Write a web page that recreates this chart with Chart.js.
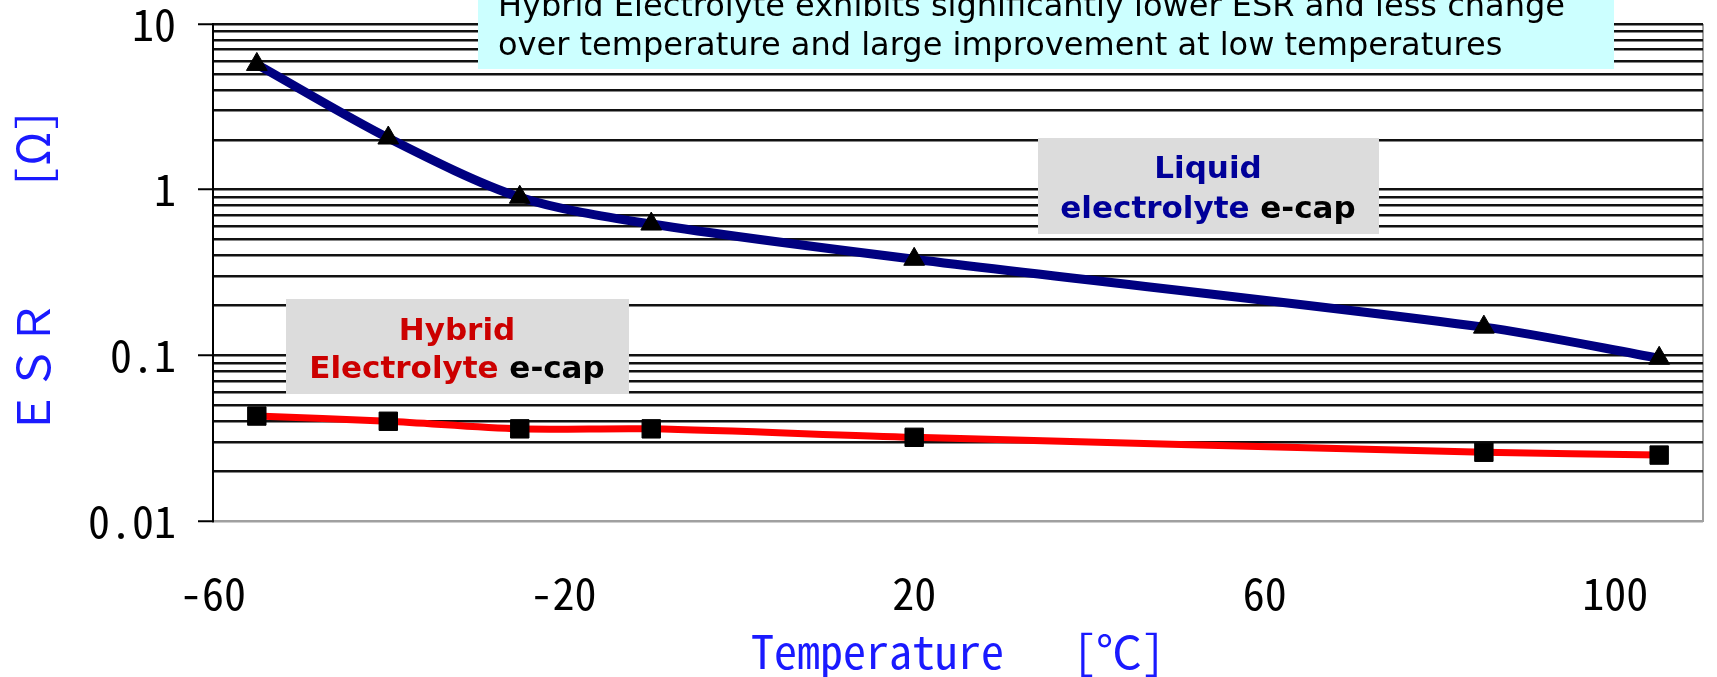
<!DOCTYPE html>
<html>
<head>
<meta charset="utf-8">
<script src="https://cdn.jsdelivr.net/npm/chart.js@4.4.0/dist/chart.umd.min.js"></script>
<style>
  html, body { margin: 0; padding: 0; background: #fff; }
  canvas { display: block; }
</style>
</head>
<body>
<canvas id="myChart" width="1717" height="677"></canvas>
<script>
// data
const temps = [-55, -40, -25, -10, 20, 85, 105];
const liquidEsr = [5.7, 2.05, 0.9, 0.62, 0.38, 0.148, 0.096];
const hybridEsr = [0.043, 0.040, 0.036, 0.036, 0.032, 0.026, 0.025];

const xTickValues = [-60, -20, 20, 60, 100];
const xTickLabels = ['-60', '-20', '20', '60', '100'];
const yTickValues = [0.01, 0.1, 1, 10];
const yTickLabels = ['0.01', '0.1', '1', '10'];

const xTitle = 'Temperature　 [℃]';
const yTitle = 'ＥＳＲ　　 [Ω]';
const bannerLines = [
    'Hybrid Electrolyte exhibits significantly lower ESR and less change',
    'over temperature and large improvement at low temperatures'
];

const axisFont = "'Noto Sans Mono CJK JP', 'Liberation Mono', monospace";
const noteFont = "'DejaVu Sans', Verdana, sans-serif";

// text boxes on top of the plot
function twoColour(ctx, cx, y, first, second, c1, c2) {
    const w1 = ctx.measureText(first).width;
    const w2 = ctx.measureText(second).width;
    let x = cx - (w1 + w2) / 2;
    ctx.textAlign = 'left';
    ctx.fillStyle = c1;
    ctx.fillText(first, x, y);
    ctx.fillStyle = c2;
    ctx.fillText(second, x + w1, y);
}

const notes = {
    id: 'notes',
    afterDatasetsDraw(chart) {
        const ctx = chart.ctx;
        ctx.save();
        ctx.textBaseline = 'alphabetic';

        // cyan banner
        ctx.fillStyle = '#ccffff';
        ctx.fillRect(478, 0, 1136, 69);
        ctx.fillStyle = '#000';
        ctx.font = '32px ' + noteFont;
        ctx.textAlign = 'left';
        ctx.fillText(bannerLines[0], 498, 16);
        ctx.fillText(bannerLines[1], 498, 55);

        ctx.font = 'bold 31px ' + noteFont;

        // hybrid box
        ctx.fillStyle = '#dcdcdc';
        ctx.fillRect(286, 299, 343, 95);
        ctx.textAlign = 'center';
        ctx.fillStyle = '#cc0000';
        ctx.fillText('Hybrid', 457, 340);
        twoColour(ctx, 457, 378, 'Electrolyte', ' e-cap', '#cc0000', '#000');

        // liquid box
        ctx.fillStyle = '#dcdcdc';
        ctx.fillRect(1038, 138, 341, 96);
        ctx.textAlign = 'center';
        ctx.fillStyle = '#000099';
        ctx.fillText('Liquid', 1208, 178);
        twoColour(ctx, 1208, 218, 'electrolyte', ' e-cap', '#000099', '#000');

        ctx.restore();
    }
};

const ctx = document.getElementById('myChart').getContext('2d');
const myChart = new Chart(ctx, {
    type: 'line',
    data: {
        datasets: [{
            label: 'Liquid electrolyte e-cap',
            data: temps.map((t, i) => ({ x: t, y: liquidEsr[i] })),
            borderColor: '#000080',
            borderWidth: 9,
            tension: 0.3,
            pointStyle: 'triangle',
            pointRadius: 12,
            pointBackgroundColor: '#000',
            pointBorderColor: '#000',
            pointBorderWidth: 1
        }, {
            label: 'Hybrid Electrolyte e-cap',
            data: temps.map((t, i) => ({ x: t, y: hybridEsr[i] })),
            borderColor: '#ff0000',
            borderWidth: 7,
            tension: 0.3,
            pointStyle: 'rect',
            pointRadius: 13,
            pointBackgroundColor: '#000',
            pointBorderColor: '#000',
            pointBorderWidth: 1
        }]
    },
    options: {
        responsive: false,
        animation: false,
        devicePixelRatio: 1,
        layout: {
            padding: { top: 24, right: 9, left: 0, bottom: 0 }
        },
        plugins: {
            legend: { display: false },
            tooltip: { enabled: false }
        },
        scales: {
            x: {
                type: 'linear',
                min: -60,
                max: 110,
                afterBuildTicks: (axis) => {
                    axis.ticks = xTickValues.concat([110]).map(v => ({ value: v }));
                },
                ticks: {
                    autoSkip: false,
                    maxRotation: 0,
                    color: '#000',
                    padding: 50,
                    font: { family: axisFont, size: 44, lineHeight: 1 },
                    callback: (v) => {
                        const i = xTickValues.indexOf(v);
                        return i < 0 ? '' : xTickLabels[i];
                    }
                },
                grid: {
                    drawTicks: false,
                    lineWidth: 2,
                    color: (c) => (c.tick && c.tick.value === 110) ? '#a0a0a0' : 'rgba(0,0,0,0)'
                },
                border: { color: '#a0a0a0', width: 2 },
                title: {
                    display: true,
                    text: xTitle,
                    color: '#1a1aff',
                    font: { family: axisFont, size: 46, lineHeight: 1 },
                    padding: { top: 0, bottom: 2 }
                },
                afterFit: (s) => {
                    s.height = 156;
                    s.paddingLeft = 0;
                    s.paddingRight = 0;
                }
            },
            y: {
                type: 'logarithmic',
                min: 0.01,
                max: 10,
                afterBuildTicks: (axis) => {
                    const t = [];
                    for (let i = 0; i < yTickValues.length - 1; i++) {
                        for (let m = 1; m < 10; m++) {
                            t.push(+(yTickValues[i] * m).toPrecision(3));
                        }
                    }
                    t.push(yTickValues[yTickValues.length - 1]);
                    axis.ticks = t.map(v => ({ value: v }));
                },
                ticks: {
                    autoSkip: false,
                    color: '#000',
                    padding: 22,
                    font: { family: axisFont, size: 44, lineHeight: 1 },
                    callback: (v) => {
                        const i = yTickValues.indexOf(v);
                        return i < 0 ? '' : yTickLabels[i];
                    }
                },
                grid: {
                    lineWidth: 2.5,
                    tickLength: 15,
                    tickWidth: 2,
                    color: (c) => (c.tick && c.tick.value === 0.01) ? '#a0a0a0' : '#111',
                    tickColor: (c) => (c.tick && yTickValues.includes(c.tick.value)) ? '#000' : 'rgba(0,0,0,0)'
                },
                border: { color: '#000', width: 2 },
                title: {
                    display: true,
                    text: yTitle,
                    color: '#1a1aff',
                    font: { family: axisFont, size: 45, lineHeight: 1 },
                    padding: { top: 10, bottom: 0 }
                },
                afterFit: (s) => {
                    s.width = 213;
                    s.paddingTop = 0;
                    s.paddingBottom = 0;
                }
            }
        }
    },
    plugins: [notes]
});
</script>
</body>
</html>
